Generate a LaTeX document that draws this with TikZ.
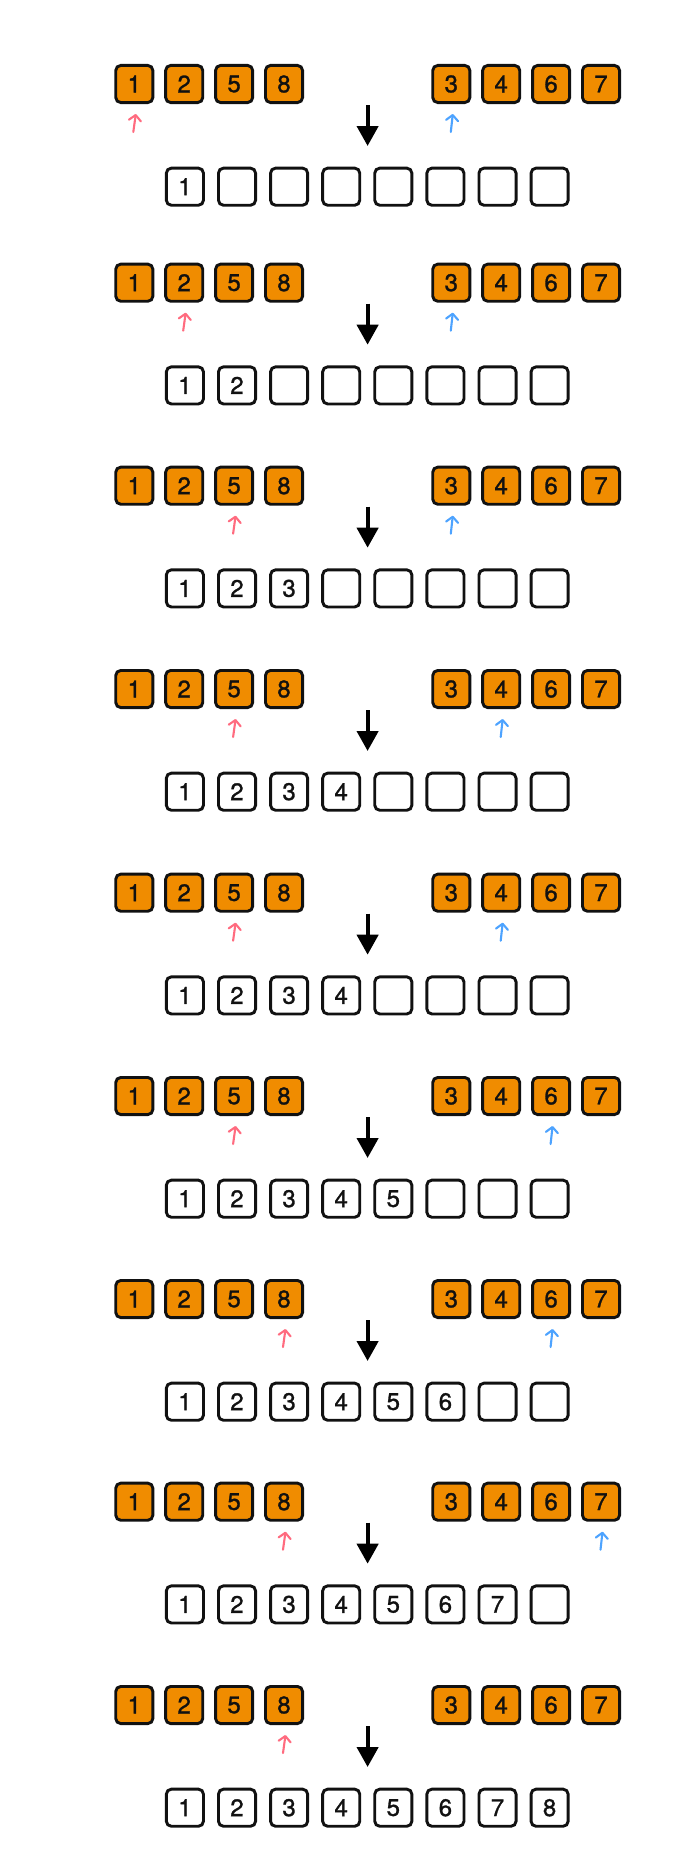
\documentclass[tikz,border=0pt]{standalone}
\usepackage{fontspec}
\setmainfont{TeX Gyre Heros}
\newfontfamily\digitfont{TeX Gyre Heros}[FakeBold=1.2]
\usetikzlibrary{arrows.meta}
\definecolor{boxorange}{HTML}{F08C00}
\definecolor{boxline}{HTML}{111111}
\definecolor{ptrred}{HTML}{FF6B7F}
\definecolor{ptrblue}{HTML}{4DA3FF}
\tikzset{
  cell/.style={draw=boxline, line width=2.9pt, rounded corners=5pt,
    minimum width=37.1pt, minimum height=37.1pt, inner sep=0pt,
    font=\digitfont\fontsize{24}{24}\selectfont, text=boxline},
  obox/.style={cell, fill=boxorange},
  wbox/.style={cell, fill=white},
  ptr/.style={line width=2.1pt, line cap=round, -{Straight Barb[length=5.5pt,width=12pt,round]}},
  redptr/.style={ptr, draw=ptrred},
  blueptr/.style={ptr, draw=ptrblue},
  downarrow/.style={line width=4.2pt, draw=black, -{Triangle[width=21pt,length=20pt]}}
}
\begin{document}
\begin{tikzpicture}[x=1pt,y=-1pt]
\useasboundingbox[fill=white] (0,0) rectangle (699,1860);
\foreach \ty/\ri/\ui/\cnt [count=\b] in {64/0/0/1, 262.7/1/0/2, 465.7/2/0/3, 669/2/1/4, 872.7/2/1/4, 1076/2/2/5, 1279/3/2/6, 1481.7/3/3/7, 1685/3/-1/8}{
  % left input row
  \foreach \v [count=\k from 0] in {1,2,5,8}
    \node[obox] (L\b-\k) at ({134.3+49.9*\k},{\ty+20}) {\v};
  % right input row
  \foreach \v [count=\k from 0] in {3,4,6,7}
    \node[obox] (R\b-\k) at ({451.3+49.9*\k},{\ty+20}) {\v};
  % red pointer
  \coordinate (RPa\b) at ({134.3+49.9*\ri-1},{\ty+68});
  \coordinate (RPb\b) at ({134.3+49.9*\ri+1.5},{\ty+50});
  \draw[redptr] (RPa\b) -- (RPb\b);
  % blue pointer
  \ifnum\ui<0\relax\else
    \coordinate (BPa\b) at ({451.3+49.9*\ui-0.5},{\ty+68});
    \coordinate (BPb\b) at ({451.3+49.9*\ui+1.5},{\ty+50});
    \draw[blueptr] (BPa\b) -- (BPb\b);
  \fi
  % down arrow
  \coordinate (DA\b) at (367.6,{\ty+41});
  \coordinate (DB\b) at (367.6,{\ty+82});
  \draw[downarrow] (DA\b) -- (DB\b);
  % output row
  \foreach \k in {0,...,7}{
    \pgfmathtruncatemacro\lab{\k+1}
    \node[wbox] (W\b-\k) at ({184.9+52.1*\k},{\ty+122.7}) {\ifnum\k<\cnt\relax\lab\fi};
  }
}
\end{tikzpicture}
\end{document}
